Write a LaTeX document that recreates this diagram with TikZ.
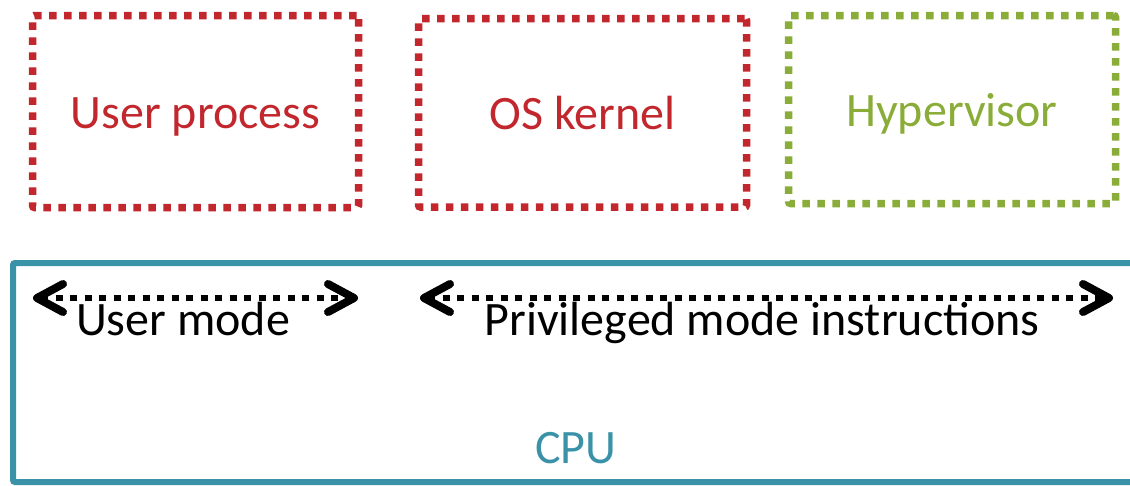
\documentclass[tikz,border=0pt]{standalone}
\usepackage{fontspec}
\setmainfont{Carlito}
\usetikzlibrary{arrows.meta}
\definecolor{boxred}{HTML}{C1272D}
\definecolor{hvgreen}{HTML}{8AAC38}
\definecolor{cputeal}{HTML}{3A92A8}
\tikzset{
  dotbox/.style={draw, line width=7.5pt, dash pattern=on 7.5pt off 7.5pt, line cap=butt,
    rounded corners=2pt, inner sep=0pt, text height=33pt, text depth=0pt,
    font=\fontsize{48}{52}\selectfont},
  bigtext/.style={inner sep=0pt, anchor=base, font=\fontsize{48}{52}\selectfont},
  modearrow/.style={line width=6pt, dash pattern=on 7pt off 7.5pt,
    {Straight Barb[length=26pt,width=28pt,line width=8pt,round]}-{Straight Barb[length=26pt,width=28pt,line width=8pt,round]}},
  cpuframe/.style={draw=cputeal, line width=6pt, rounded corners=2pt}
}
\begin{document}
\begin{tikzpicture}[x=1pt,y=-1pt]
\useasboundingbox (0,0) rectangle (1130,485);
% top boxes
\node[dotbox, draw=boxred, text=boxred, minimum width=326pt, minimum height=192pt] (user) at (195.5,111.5) {User process};
\node[dotbox, draw=boxred, text=boxred, minimum width=328pt, minimum height=188.5pt] (kernel) at (582.5,112.75) {OS kernel};
\node[dotbox, draw=hvgreen, text=hvgreen, minimum width=327pt, minimum height=188pt] (hyp) at (952,109.5) {Hypervisor};
% CPU frame
\draw[cpuframe] (13,263) rectangle (1160,482);
\node[bigtext, text=cputeal] (cpu) at (576,463) {CPU};
% mode arrows
\coordinate (u1) at (33,298);
\coordinate (u2) at (358,298);
\coordinate (p1) at (420,298);
\coordinate (p2) at (1113,298);
\draw[modearrow] (u1) -- (u2);
\draw[modearrow] (p1) -- (p2);
\node[bigtext] (umode) at (183,335) {User mode};
\node[bigtext] (pmode) at (762,335) {Privileged mode instructions};
\end{tikzpicture}
\end{document}
